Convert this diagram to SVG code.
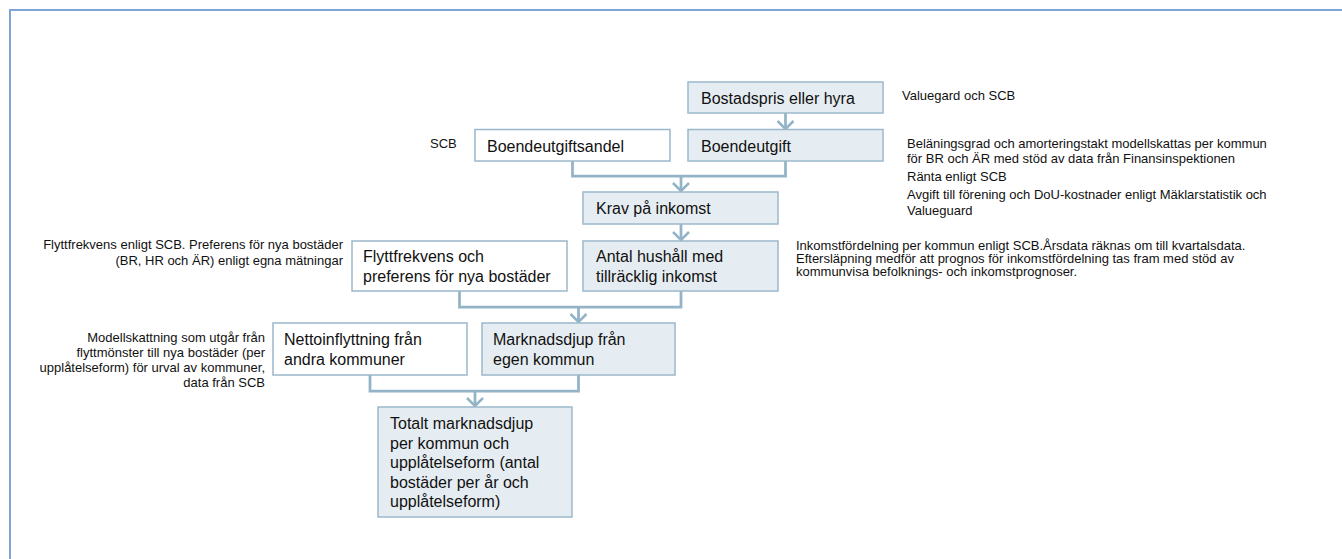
<svg xmlns="http://www.w3.org/2000/svg" width="1342" height="559" viewBox="0 0 1342 559">
<style>
.bg{fill:#ffffff}
.frame{fill:none;stroke:#7ea4d8;stroke-width:2}
.fill{fill:#e6edf2;stroke:#9bb8cb;stroke-width:1.5}
.white{fill:#ffffff;stroke:#9bb8cb;stroke-width:1.5}
.nt{font-family:"Liberation Sans",Arial,sans-serif;font-size:16px;fill:#111}
.an{font-family:"Liberation Sans",Arial,sans-serif;font-size:13px;fill:#111}
.r{text-anchor:end}
.c{fill:none;stroke:#93b3c7;stroke-width:2.75}
</style>
<defs>
<marker id="chev" viewBox="-10 -10 12 20" markerWidth="12" markerHeight="20" markerUnits="userSpaceOnUse" refX="0" refY="0" orient="auto">
<path d="M-8,-8 L0,0 L-8,8" fill="none" stroke="#93b3c7" stroke-width="2.5"/>
</marker>
</defs>
<rect class="bg" x="0" y="0" width="1342" height="559"/>
<path class="frame" d="M10,559 V10 H1342"/>

<g id="connectors">
<path class="c" d="M785.5,113 V129" marker-end="url(#chev)"/>
<path class="c" d="M572.5,161 V176 H785.5 V161"/>
<path class="c" d="M681,176 V191" marker-end="url(#chev)"/>
<path class="c" d="M681,224 V240" marker-end="url(#chev)"/>
<path class="c" d="M459.5,291 V307 H681 V291"/>
<path class="c" d="M578.5,307 V322" marker-end="url(#chev)"/>
<path class="c" d="M370,375 V391 H578.5 V375"/>
<path class="c" d="M475,391 V406" marker-end="url(#chev)"/>
</g>

<g id="bostadspris">
<rect class="fill" x="688" y="82" width="195" height="31"/>
<text class="nt" x="701" y="104">Bostadspris eller hyra</text>
</g>
<g id="boendeutgiftsandel">
<rect class="white" x="475" y="129.5" width="195" height="31.5"/>
<text class="nt" x="487" y="152">Boendeutgiftsandel</text>
</g>
<g id="boendeutgift">
<rect class="fill" x="688" y="129.5" width="195" height="31.5"/>
<text class="nt" x="701" y="152">Boendeutgift</text>
</g>
<g id="krav">
<rect class="fill" x="583" y="192" width="195" height="32"/>
<text class="nt" x="596" y="213.5">Krav på inkomst</text>
</g>
<g id="flytt">
<rect class="white" x="352" y="241" width="215" height="50"/>
<text class="nt" x="363" y="262">Flyttfrekvens och</text>
<text class="nt" x="363" y="281.5">preferens för nya bostäder</text>
</g>
<g id="antal">
<rect class="fill" x="583" y="241" width="195" height="50"/>
<text class="nt" x="596" y="262">Antal hushåll med</text>
<text class="nt" x="596" y="281.5">tillräcklig inkomst</text>
</g>
<g id="netto">
<rect class="white" x="273" y="323" width="194" height="52"/>
<text class="nt" x="284" y="345">Nettoinflyttning från</text>
<text class="nt" x="284" y="364.5">andra kommuner</text>
</g>
<g id="marknad">
<rect class="fill" x="482" y="323" width="193" height="52"/>
<text class="nt" x="493" y="345">Marknadsdjup från</text>
<text class="nt" x="493" y="364.5">egen kommun</text>
</g>
<g id="totalt">
<rect class="fill" x="378" y="407" width="194" height="110"/>
<text class="nt" x="390" y="429">Totalt marknadsdjup</text>
<text class="nt" x="390" y="448.5">per kommun och</text>
<text class="nt" x="390" y="468">upplåtelseform (antal</text>
<text class="nt" x="390" y="487.5">bostäder per år och</text>
<text class="nt" x="390" y="507">upplåtelseform)</text>
</g>

<g id="annotations">
<text class="an" x="902" y="100">Valuegard och SCB</text>
<text class="an" x="430" y="147.5">SCB</text>
<text class="an" x="907" y="147.5">Beläningsgrad och amorteringstakt modellskattas per kommun</text>
<text class="an" x="907" y="162.5">för BR och ÄR med stöd av data från Finansinspektionen</text>
<text class="an" x="907" y="180.5">Ränta enligt SCB</text>
<text class="an" x="907" y="198.5">Avgift till förening och DoU-kostnader enligt Mäklarstatistik och</text>
<text class="an" x="907" y="214.5">Valueguard</text>
<text class="an" x="796" y="250">Inkomstfördelning per kommun enligt SCB.Årsdata räknas om till kvartalsdata.</text>
<text class="an" x="796" y="263">Eftersläpning medför att prognos för inkomstfördelning tas fram med stöd av</text>
<text class="an" x="796" y="276">kommunvisa befolknings- och inkomstprognoser.</text>
<text class="an r" x="343" y="248.5">Flyttfrekvens enligt SCB. Preferens för nya bostäder</text>
<text class="an r" x="343" y="265">(BR, HR och ÄR) enligt egna mätningar</text>
<text class="an r" x="265" y="342">Modellskattning som utgår från</text>
<text class="an r" x="265" y="357">flyttmönster till nya bostäder (per</text>
<text class="an r" x="265" y="372">upplåtelseform) för urval av kommuner,</text>
<text class="an r" x="265" y="387">data från SCB</text>
</g>
</svg>
